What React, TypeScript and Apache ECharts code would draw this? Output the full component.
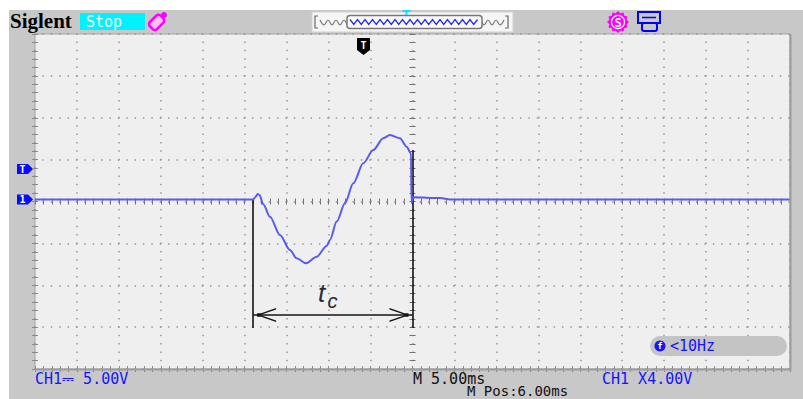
import { useEffect, useRef } from 'react';
import * as echarts from 'echarts';

// CH1 capture: 5 ms/div horizontally, 5 V/div vertically, trigger at t = 0 ms
const timeMs = [-39, -13.0, -12.72, -12.46, -12.24, -11.79, -10.99, -9.8, -8.61, -7.81, -6.7, -5.42, -4.23, -3.84, -3.04, -2.05, -1.06, 0.13, 1.32, 2.52, 3.31, 4.51, 5.3, 5.82, 5.89, 6.06, 9.3, 10.5, 51];
const ch1Volts = [0, 0, 0.29, 0.64, 0.53, -0.59, -2.07, -4.25, -6.04, -7.03, -7.63, -6.84, -5.55, -4.85, -2.65, -0.47, 1.92, 4.31, 5.9, 7.3, 7.69, 7.3, 6.29, 5.5, -0.43, 0.25, 0.17, 0, 0];

// visible window of the screen
const timeWindowMs = [-39, 51];
const voltWindow = [-20.25, 19.75];
const hDivisions = 18;
const vDivisions = 8;

// t_c measurement cursor
const tcStartMs = -13.0;
const tcEndMs = 6.0;
const tcTopVolts = [0, 5.9];
const tcBottomVolts = -15.35;
const tcArrowVolts = -13.8;

// readouts
const statusText = 'Stop';
const ch1ScaleText = 'CH1\u2393 5.00V';
const timebaseText = 'M 5.00ms';
const positionText = 'M Pos:6.00ms';
const triggerText = 'CH1 X4.00V';
const freqText = '<10Hz';

const FRAME = { left: 35, top: 34, width: 755, height: 335 };
const MONO = 'DejaVu Sans Mono';
const BLUE = '#1414ff';

function tickAxis(extra: any, color: string) {
  return {
    type: 'value',
    interval: 1,
    axisLine: { show: false },
    axisLabel: { show: false },
    axisTick: { show: true, inside: true, length: 3, lineStyle: { color, width: 1 } },
    minorTick: { show: true, splitNumber: 5, length: 3, lineStyle: { color, width: 1 } },
    splitLine: { show: false },
    ...extra,
  };
}

const dotted = {
  show: true,
  lineStyle: { color: '#979797', width: 1.5, type: [1.5, 6.88], dashOffset: 0.75 },
};

function wave(x0: number, x1: number, step: number, yA: number, yB: number) {
  const pts: number[][] = [];
  let k = 0;
  for (let x = x0; x <= x1; x += step / 2) {
    pts.push([x, k % 2 === 0 ? yA : yB]);
    k++;
  }
  return pts;
}

function gear(cx: number, cy: number, rOut: number, rIn: number, teeth: number) {
  const pts: number[][] = [];
  for (let i = 0; i < teeth * 2; i++) {
    const a = (Math.PI * i) / teeth;
    const r = i % 2 === 0 ? rOut : rIn;
    pts.push([cx + r * Math.cos(a), cy + r * Math.sin(a)]);
  }
  return pts;
}

const leftArrow = 'path://M0 7 L20 0 L20 1.6 L4 7 L20 12.4 L20 14 Z M1 5.3 L5.5 5.3 L5.5 8.7 L1 8.7 Z';
const rightArrow = 'path://M20 7 L0 0 L0 1.6 L16 7 L0 12.4 L0 14 Z M19 5.3 L14.5 5.3 L14.5 8.7 L19 8.7 Z';

function txt(x: number, y: number, text: string, fill: string, size: number, extra: any = {}) {
  return {
    type: 'text',
    x,
    y,
    z: 50,
    style: { text, fill, fontSize: size, fontFamily: MONO, verticalAlign: 'middle', ...extra },
  };
}

function marker(y: number, label: string) {
  return {
    type: 'group',
    z: 50,
    children: [
      {
        type: 'polygon',
        shape: { points: [[17, y - 5], [28, y - 5], [33, y], [28, y + 5], [17, y + 5]] },
        style: { fill: '#0a0aff' },
      },
      {
        type: 'text',
        x: 22.5,
        y,
        style: { text: label, fill: '#fff', fontSize: 10, fontWeight: 'bold', fontFamily: MONO, align: 'center', verticalAlign: 'middle' },
      },
    ],
  };
}

export default function App() {
  const ref = useRef<HTMLDivElement>(null);

  useEffect(() => {
    if (!ref.current) return;
    const chart = echarts.init(ref.current, null, { renderer: 'svg' });
    const halfW = FRAME.width / 2;
    const halfH = FRAME.height / 2;

    chart.setOption({
      animation: false,
      backgroundColor: '#c8c8c8',
      grid: [
        { ...FRAME, show: true, backgroundColor: '#efefef', borderColor: '#a4a4a4', borderWidth: 1 },
        { ...FRAME, show: false },
        { ...FRAME, show: false },
      ],
      xAxis: [
        tickAxis({ gridIndex: 0, position: 'bottom', min: 0, max: hDivisions, splitLine: dotted }, '#8a8a8a'),
        tickAxis({ gridIndex: 0, position: 'top', min: 0, max: hDivisions }, '#8a8a8a'),
        tickAxis({ gridIndex: 1, position: 'bottom', offset: -halfH, min: 0, max: hDivisions }, '#6f6f6f'),
        tickAxis({ gridIndex: 1, position: 'top', offset: -halfH, min: 0, max: hDivisions }, '#6f6f6f'),
        { gridIndex: 2, type: 'value', show: false, min: timeWindowMs[0], max: timeWindowMs[1] },
      ],
      yAxis: [
        tickAxis({ gridIndex: 0, position: 'left', min: 0, max: vDivisions, splitLine: dotted }, '#8a8a8a'),
        tickAxis({ gridIndex: 0, position: 'right', min: 0, max: vDivisions }, '#8a8a8a'),
        tickAxis({ gridIndex: 1, position: 'left', offset: -halfW, min: 0, max: vDivisions }, '#6f6f6f'),
        tickAxis({ gridIndex: 1, position: 'right', offset: -halfW, min: 0, max: vDivisions }, '#6f6f6f'),
        { gridIndex: 2, type: 'value', show: false, min: voltWindow[0], max: voltWindow[1] },
      ],
      series: [
        {
          type: 'line',
          xAxisIndex: 4,
          yAxisIndex: 4,
          data: timeMs.map((t, i) => [t, ch1Volts[i]]),
          showSymbol: false,
          symbol: 'none',
          smooth: 0.3,
          smoothMonotone: 'x',
          lineStyle: { color: '#5a5af2', width: 2 },
          z: 5,
          markLine: {
            silent: true,
            symbol: ['none', 'none'],
            label: { show: false },
            lineStyle: { color: '#141414', width: 1.6, type: 'solid' },
            emphasis: { disabled: true },
            data: [
              [{ coord: [tcStartMs, tcTopVolts[0]] }, { coord: [tcStartMs, tcBottomVolts] }],
              [{ coord: [tcEndMs, tcTopVolts[1]] }, { coord: [tcEndMs, tcBottomVolts] }],
              [{ coord: [tcStartMs, tcArrowVolts] }, { coord: [tcEndMs, tcArrowVolts] }],
            ],
          },
          markPoint: {
            silent: true,
            label: { show: false },
            itemStyle: { color: '#141414' },
            data: [
              { coord: [tcStartMs, tcArrowVolts], symbol: leftArrow, symbolSize: [20, 14], symbolOffset: [13, 0] },
              { coord: [tcEndMs, tcArrowVolts], symbol: rightArrow, symbolSize: [20, 14], symbolOffset: [-13, 0] },
            ],
          },
        },
      ],
      graphic: {
        elements: [
          // white margins around the screen
          { type: 'rect', z: 50, shape: { x: 0, y: 0, width: 803, height: 10 }, style: { fill: '#ffffff' } },
          { type: 'rect', z: 50, shape: { x: 0, y: 0, width: 9, height: 399 }, style: { fill: '#ffffff' } },
          // darker right/bottom edge of the graticule
          {
            type: 'polyline',
            z: 50,
            shape: { points: [[790.5, 34], [790.5, 369.5], [35, 369.5]] },
            style: { stroke: '#9c9c9c', lineWidth: 2, fill: null },
          },
          // header
          {
            type: 'text',
            x: 10,
            y: 21,
            z: 50,
            style: { text: 'Siglent', fill: '#000', fontSize: 21, fontWeight: 'bold', fontFamily: 'Liberation Serif', verticalAlign: 'middle' },
          },
          { type: 'rect', z: 50, shape: { x: 80, y: 13, width: 65, height: 17 }, style: { fill: '#00f2ff' } },
          txt(86, 21.5, statusText, '#ffffff', 15),
          {
            type: 'rect',
            z: 50,
            x: 157,
            y: 22,
            rotation: -Math.PI / 4,
            shape: { x: -5, y: -7, width: 10, height: 15, r: 3 },
            style: { fill: '#ffc0ff', stroke: '#ff00ff', lineWidth: 2.5 },
          },
          { type: 'circle', z: 51, shape: { cx: 164, cy: 15, r: 3 }, style: { fill: '#ff00ff' } },
          // memory / trigger position bar
          { type: 'rect', z: 50, shape: { x: 312, y: 12, width: 201, height: 20 }, style: { fill: '#f6f6f6', stroke: '#d2d2d2', lineWidth: 1 } },
          { type: 'polyline', z: 51, shape: { points: [[318, 16], [315, 16], [315, 28], [318, 28]] }, style: { stroke: '#666', lineWidth: 1.2, fill: null } },
          { type: 'polyline', z: 51, shape: { points: [[505, 16], [508, 16], [508, 28], [505, 28]] }, style: { stroke: '#666', lineWidth: 1.2, fill: null } },
          { type: 'polyline', z: 51, shape: { points: wave(320, 504, 8, 20, 25), smooth: 0.4 }, style: { stroke: '#7a7a7a', lineWidth: 1.2, fill: null } },
          { type: 'rect', z: 52, shape: { x: 347, y: 15.5, width: 135, height: 13, r: 3 }, style: { fill: '#fafafa', stroke: '#777', lineWidth: 1.5 } },
          { type: 'polyline', z: 53, shape: { points: wave(350, 479, 7.5, 19.5, 24.5) }, style: { stroke: '#2626ff', lineWidth: 1.3, fill: null } },
          { type: 'rect', z: 53, shape: { x: 402.5, y: 10, width: 8, height: 2 }, style: { fill: '#00e8ff' } },
          { type: 'rect', z: 53, shape: { x: 405.5, y: 10, width: 2, height: 5 }, style: { fill: '#00e8ff' } },
          // right header icons
          { type: 'polygon', z: 50, shape: { points: gear(618, 22, 11, 9, 12) }, style: { fill: '#ff00ff' } },
          { type: 'circle', z: 51, shape: { cx: 618, cy: 22, r: 6.5 }, style: { fill: '#ff00ff', stroke: '#ffffff', lineWidth: 1.2 } },
          {
            type: 'text',
            x: 618,
            y: 22.5,
            z: 52,
            style: { text: 'S', fill: '#fff', fontSize: 12, fontWeight: 'bold', fontFamily: MONO, align: 'center', verticalAlign: 'middle' },
          },
          { type: 'rect', z: 50, shape: { x: 638, y: 12, width: 22, height: 11 }, style: { fill: 'none', stroke: '#0000ff', lineWidth: 2 } },
          { type: 'line', z: 50, shape: { x1: 642, y1: 17.5, x2: 656, y2: 17.5 }, style: { stroke: '#0000ff', lineWidth: 1.5 } },
          { type: 'rect', z: 51, shape: { x: 642, y: 23, width: 15, height: 8, r: 2 }, style: { fill: '#c8c8c8', stroke: '#0000ff', lineWidth: 2 } },
          // channel ground and trigger level markers
          marker(169, 'T'),
          marker(199.5, '1'),
          // trigger position marker
          {
            type: 'group',
            z: 50,
            children: [
              {
                type: 'polygon',
                shape: { points: [[357, 38], [370, 38], [370, 50], [363.5, 55], [357, 50]] },
                style: { fill: '#000' },
              },
              {
                type: 'text',
                x: 363.5,
                y: 45,
                style: { text: 'T', fill: '#fff', fontSize: 10, fontWeight: 'bold', fontFamily: MONO, align: 'center', verticalAlign: 'middle' },
              },
            ],
          },
          // t_c label
          {
            type: 'text',
            x: 318,
            y: 293,
            z: 50,
            style: { text: 't', fill: '#2b2b38', fontSize: 26, fontStyle: 'italic', fontFamily: 'Liberation Sans', verticalAlign: 'middle' },
          },
          {
            type: 'text',
            x: 327.5,
            y: 301,
            z: 50,
            style: { text: 'c', fill: '#2b2b38', fontSize: 20, fontStyle: 'italic', fontFamily: 'Liberation Sans', verticalAlign: 'middle' },
          },
          // frequency counter
          { type: 'rect', z: 50, shape: { x: 650, y: 336, width: 137, height: 20, r: 10 }, style: { fill: '#c4c4c4' } },
          { type: 'circle', z: 51, shape: { cx: 660, cy: 346, r: 5.5 }, style: { fill: BLUE } },
          {
            type: 'text',
            x: 660,
            y: 346,
            z: 52,
            style: { text: 'f', fill: '#fff', fontSize: 9, fontWeight: 'bold', fontFamily: MONO, align: 'center', verticalAlign: 'middle' },
          },
          txt(670, 346, freqText, BLUE, 15),
          // footer readouts
          txt(35, 379, ch1ScaleText, BLUE, 15),
          txt(413, 379, timebaseText, '#111', 15),
          txt(467, 391, positionText, '#111', 14),
          txt(602, 379, triggerText, BLUE, 15),
        ],
      },
    });

    return () => chart.dispose();
  }, []);

  return <div ref={ref} style={{ position: 'fixed', left: 0, top: 0, width: 803, height: 399 }} />;
}
